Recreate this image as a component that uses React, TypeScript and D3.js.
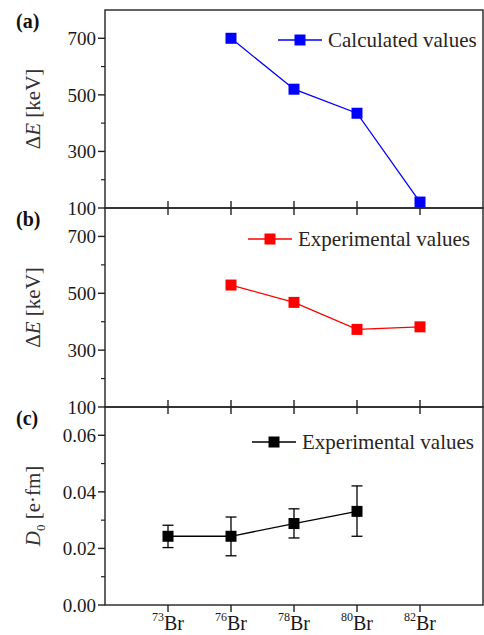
import React from "react";
import * as d3 from "d3";

// isotopes on the shared x axis
const isotopes = ["73", "76", "78", "80", "82"];

// (a) calculated energy differences
const calcIsotopes = ["76", "78", "80", "82"];
const calcValues = [700, 520, 435, 121];

// (b) experimental energy differences
const expIsotopes = ["76", "78", "80", "82"];
const expValues = [529, 468, 373, 382];

// (c) dipole moments with error bars
const dipoleIsotopes = ["73", "76", "78", "80"];
const dipoleValues = [0.0243, 0.0243, 0.0288, 0.0331];
const dipoleHigh = [0.0282, 0.0311, 0.034, 0.0421];
const dipoleLow = [0.0203, 0.0174, 0.0237, 0.0243];

const energyTicks = [100, 300, 500, 700];
const energyMinor = [200, 400, 600];
const dipoleTicks = [0, 0.02, 0.04, 0.06];
const dipoleMinor = [0.01, 0.03, 0.05];

const W = 484;
const H = 635;
const left = 105;
const right = 483;
const serif = "Liberation Serif";

const x = d3.scaleLinear().domain([0, isotopes.length + 1]).range([left, right]);
const xOf = (iso: string) => x(isotopes.indexOf(iso) + 1);

type PanelProps = {
  top: number;
  bottom: number;
  domain: [number, number];
  ticks: number[];
  minor: number[];
  fmt: (v: number) => string;
  label: string;
  ylabel: React.ReactNode;
  xs: string[];
  ys: number[];
  color: string;
  legend: string;
  legendX: number;
  legendY: number;
  hi?: number[];
  lo?: number[];
  ticksUp: boolean;
};

function Panel(p: PanelProps) {
  const y = d3.scaleLinear().domain(p.domain).range([p.bottom, p.top]);
  const line = d3
    .line<number>()
    .x((_, i) => xOf(p.xs[i]))
    .y((d) => y(d));
  const ms = 11;
  const midY = (p.top + p.bottom) / 2;
  return (
    <g>
      <rect
        x={left}
        y={p.top}
        width={right - left}
        height={p.bottom - p.top}
        fill="none"
        stroke="#222"
        strokeWidth={1.4}
      />
      {/* x ticks */}
      {isotopes.map((iso) => (
        <line
          key={iso}
          x1={xOf(iso)}
          x2={xOf(iso)}
          y1={p.ticksUp ? p.bottom - 7 : p.bottom}
          y2={p.bottom + 7}
          stroke="#222"
          strokeWidth={1.4}
        />
      ))}
      {/* y ticks */}
      {p.ticks.map((t) => (
        <g key={t}>
          <line x1={left - 7} x2={left} y1={y(t)} y2={y(t)} stroke="#222" strokeWidth={1.4} />
          <text
            x={left - 9}
            y={y(t)}
            dy="0.35em"
            textAnchor="end"
            fontFamily={serif}
            fontSize={19}
            fill="#1a1a1a"
          >
            {p.fmt(t)}
          </text>
        </g>
      ))}
      {p.minor.map((t) => (
        <line key={t} x1={left - 4} x2={left} y1={y(t)} y2={y(t)} stroke="#222" strokeWidth={1.2} />
      ))}
      {/* panel label */}
      <text x={16} y={p.top + 18} fontFamily={serif} fontWeight="bold" fontSize={20} fill="#111">
        {p.label}
      </text>
      {/* y axis title */}
      <text
        transform={`translate(40,${midY}) rotate(-90)`}
        textAnchor="middle"
        fontFamily={serif}
        fontSize={21}
        fill="#333"
      >
        {p.ylabel}
      </text>
      {/* error bars */}
      {p.hi &&
        p.lo &&
        p.xs.map((iso, i) => (
          <g key={"e" + iso} stroke={p.color} strokeWidth={1.3}>
            <line x1={xOf(iso)} x2={xOf(iso)} y1={y(p.hi![i])} y2={y(p.lo![i])} />
            <line x1={xOf(iso) - 5.5} x2={xOf(iso) + 5.5} y1={y(p.hi![i])} y2={y(p.hi![i])} />
            <line x1={xOf(iso) - 5.5} x2={xOf(iso) + 5.5} y1={y(p.lo![i])} y2={y(p.lo![i])} />
          </g>
        ))}
      <path d={line(p.ys) || ""} fill="none" stroke={p.color} strokeWidth={1.3} />
      {p.ys.map((v, i) => (
        <rect
          key={p.xs[i]}
          x={xOf(p.xs[i]) - ms / 2}
          y={y(v) - ms / 2}
          width={ms}
          height={ms}
          fill={p.color}
        />
      ))}
      {/* legend */}
      <line x1={p.legendX} x2={p.legendX + 44} y1={p.legendY} y2={p.legendY} stroke={p.color} strokeWidth={1.3} />
      <rect x={p.legendX + 22 - ms / 2} y={p.legendY - ms / 2} width={ms} height={ms} fill={p.color} />
      <text x={p.legendX + 50} y={p.legendY + 7} fontFamily={serif} fontSize={21} fill="#2a2420">
        {p.legend}
      </text>
    </g>
  );
}

export default function App() {
  const eLabel = (
    <>
      <tspan>Δ</tspan>
      <tspan fontStyle="italic">E</tspan>
      <tspan> [keV]</tspan>
    </>
  );
  const dLabel = (
    <>
      <tspan fontStyle="italic">D</tspan>
      <tspan fontSize={13} dy={5}>0</tspan>
      <tspan dy={-5}> [e·fm]</tspan>
    </>
  );
  return (
    <svg
      width={W}
      height={H}
      style={{ position: "absolute", left: 0, top: 0, background: "#fff" }}
    >
      <Panel
        top={10}
        bottom={208}
        domain={[100, 800]}
        ticks={energyTicks}
        minor={energyMinor}
        fmt={(v) => String(v)}
        label="(a)"
        ylabel={eLabel}
        xs={calcIsotopes}
        ys={calcValues}
        color="#0000ff"
        legend="Calculated values"
        legendX={278}
        legendY={40}
        ticksUp={true}
      />
      <Panel
        top={208}
        bottom={407}
        domain={[100, 800]}
        ticks={energyTicks}
        minor={energyMinor}
        fmt={(v) => String(v)}
        label="(b)"
        ylabel={eLabel}
        xs={expIsotopes}
        ys={expValues}
        color="#ff0000"
        legend="Experimental values"
        legendX={248}
        legendY={239}
        ticksUp={true}
      />
      <Panel
        top={407}
        bottom={605}
        domain={[0, 0.07]}
        ticks={dipoleTicks}
        minor={dipoleMinor}
        fmt={d3.format(".2f")}
        label="(c)"
        ylabel={dLabel}
        xs={dipoleIsotopes}
        ys={dipoleValues}
        color="#000000"
        legend="Experimental values"
        legendX={252}
        legendY={442}
        hi={dipoleHigh}
        lo={dipoleLow}
        ticksUp={false}
      />
      {/* isotope labels */}
      {isotopes.map((iso) => (
        <text key={iso} x={xOf(iso)} y={630} textAnchor="middle" fontFamily={serif} fontSize={20} fill="#1a1a1a">
          <tspan fontSize={12} dy={-9}>{iso}</tspan>
          <tspan dy={9}>Br</tspan>
        </text>
      ))}
    </svg>
  );
}
